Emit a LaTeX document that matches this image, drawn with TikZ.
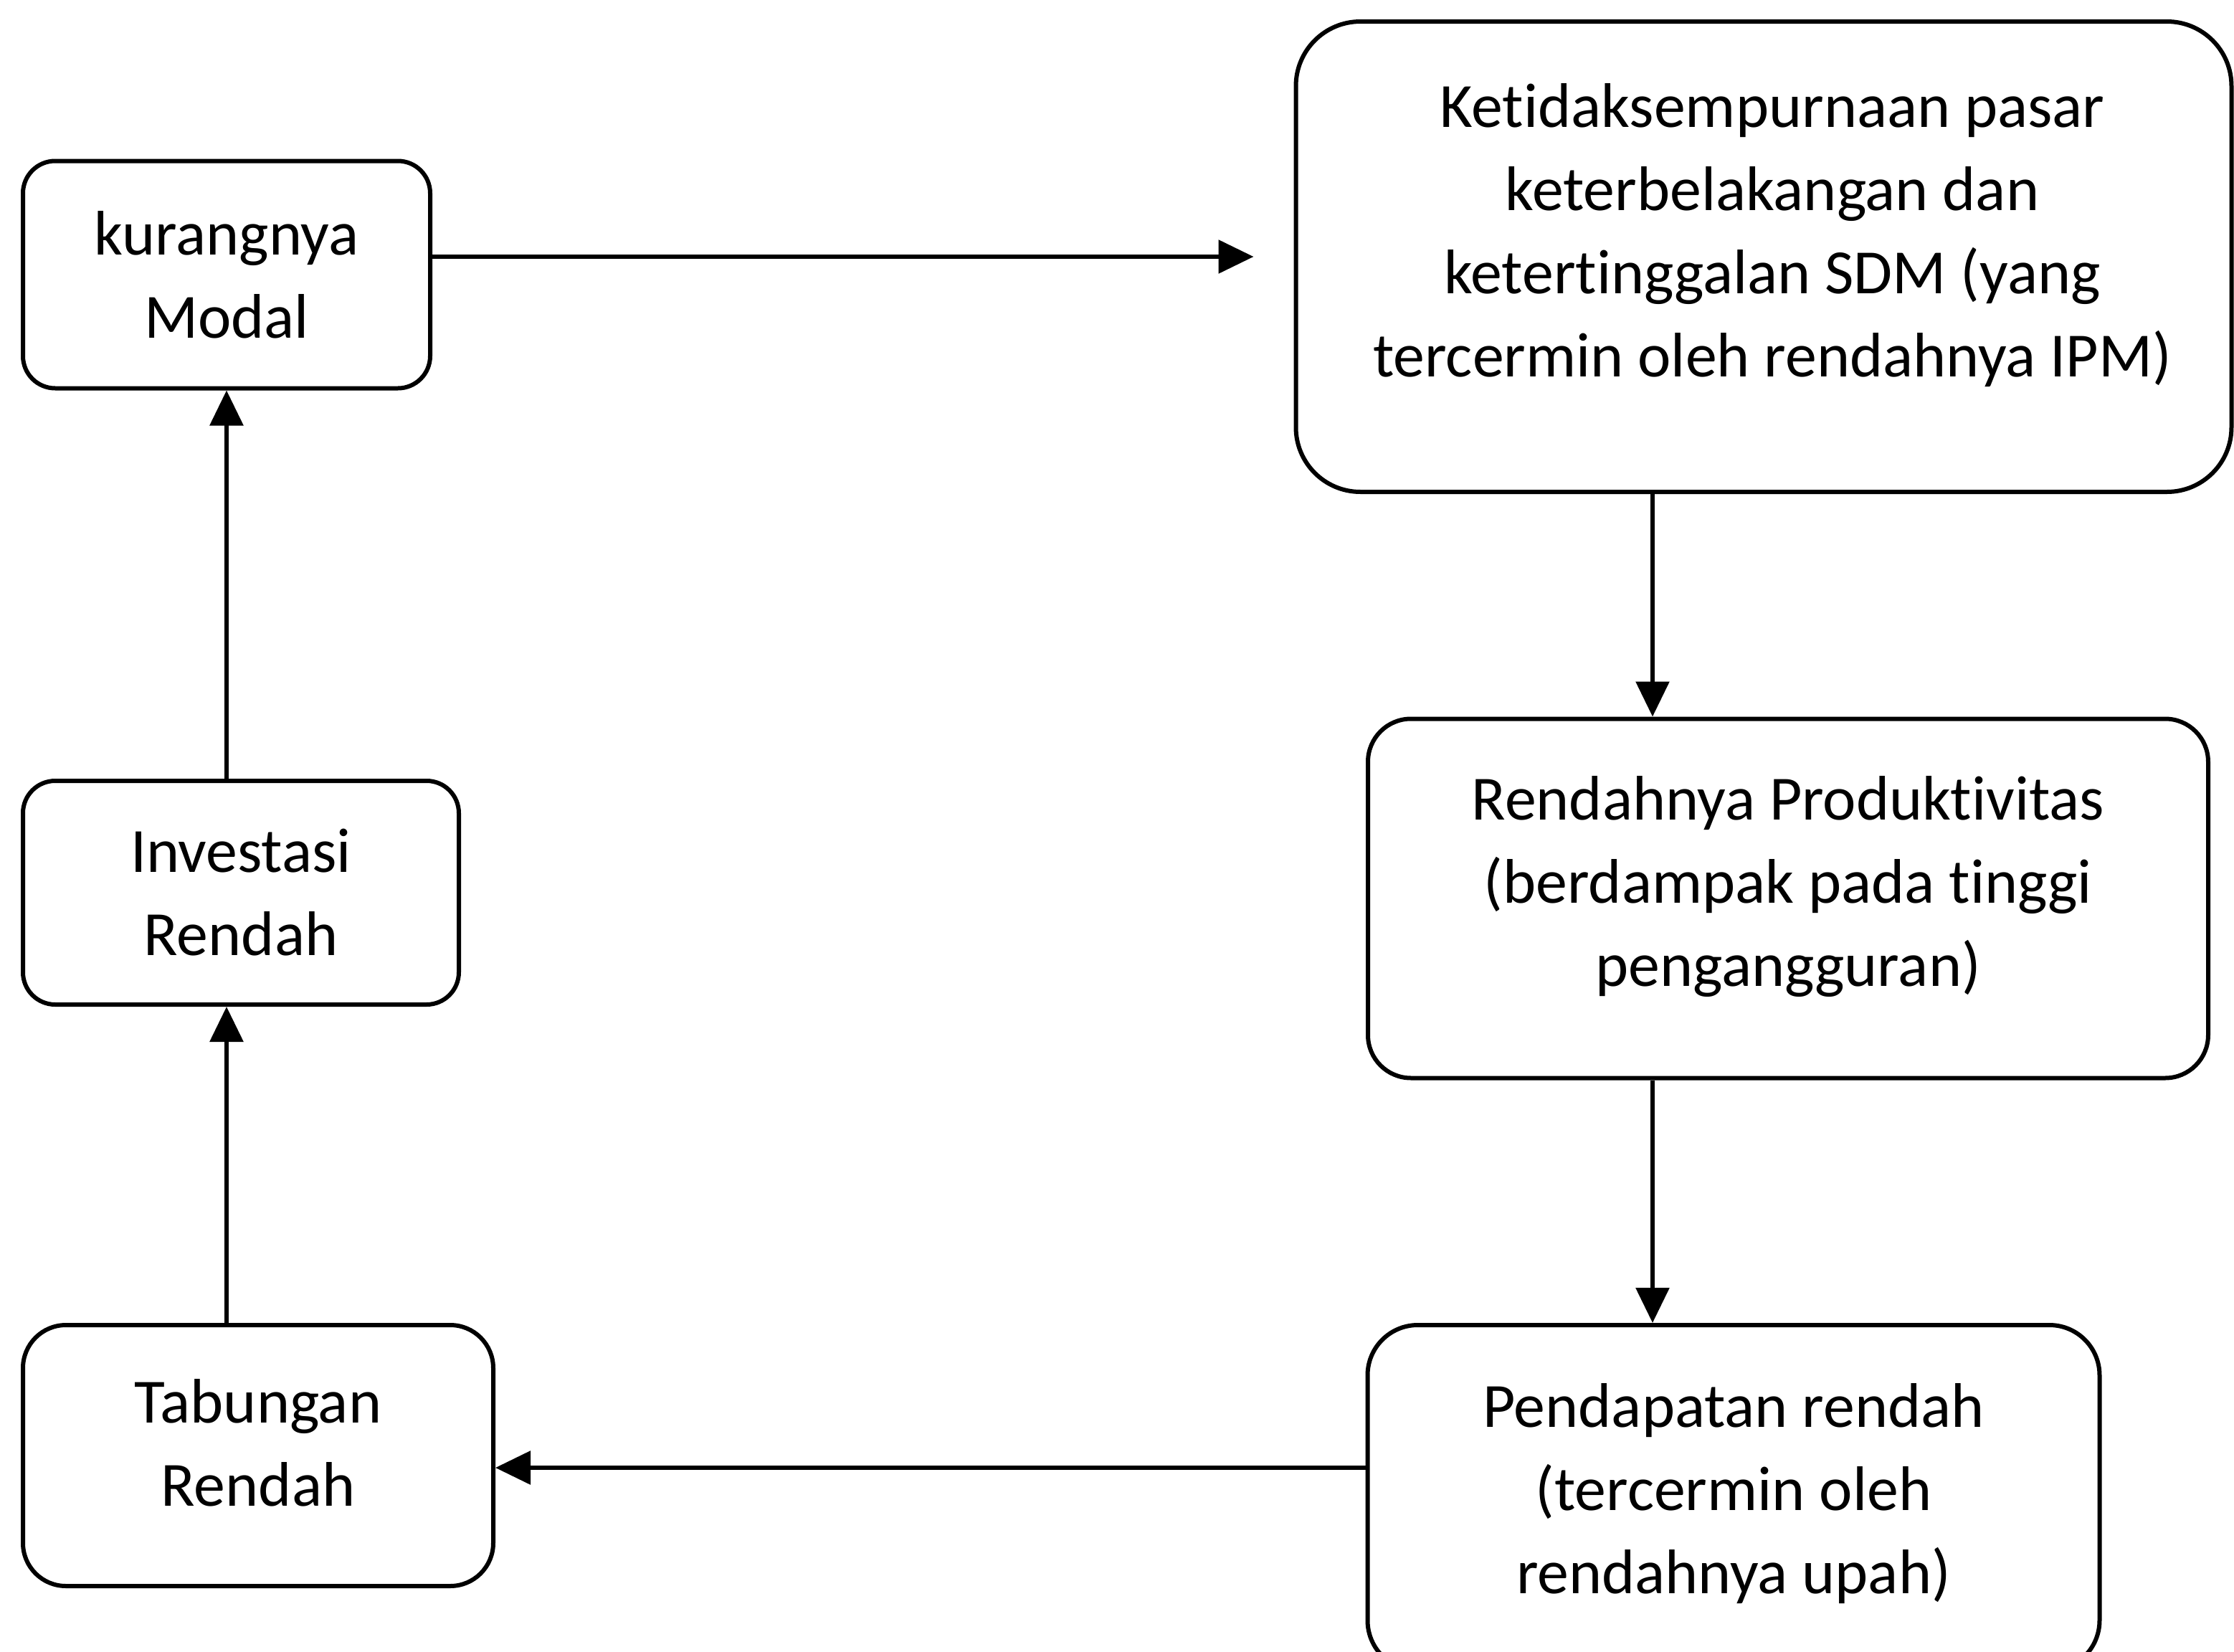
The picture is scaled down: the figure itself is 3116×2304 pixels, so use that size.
\documentclass[tikz,border=0pt]{standalone}
\usepackage{fontspec}
\setmainfont{Carlito}[Ligatures=NoCommon]
\usetikzlibrary{arrows.meta}
\usetikzlibrary{calc}

\tikzset{
  teks/.style={align=center, font=\fontsize{25}{33}\selectfont},
  kotak/.style={teks, draw, line width=0.6mm, rounded corners=5mm, inner sep=0pt},
  panah/.style={line width=0.6mm, -{Triangle[length=4.9mm,width=4.6mm]}}
}

\begin{document}
\begin{tikzpicture}[x=0.1mm, y=-0.1mm]
    \useasboundingbox (0,0) rectangle (3116,2304);

    % boxes, left column
    \node[kotak, minimum width=56.8mm, minimum height=31.7mm, rounded corners=4.5mm] (modal) at (316,383) {kurangnya\\Modal};
    \node[kotak, minimum width=60.8mm, minimum height=31.2mm, rounded corners=4.5mm] (investasi) at (336,1245) {Investasi\\Rendah};
    \node[kotak, minimum width=65.6mm, minimum height=36.4mm, rounded corners=6mm,
          label={[teks, yshift=1.8mm]center:Tabungan\\Rendah}] (tabungan) at (360,2030) {};

    % boxes, right column
    \node[kotak, minimum width=130.5mm, minimum height=65.6mm, rounded corners=9mm,
          label={[teks, xshift=1.2mm, yshift=3mm]center:Ketidaksempurnaan pasar\\keterbelakangan dan\\ketertinggalan SDM (yang\\tercermin oleh rendahnya IPM)}] (pasar) at (2460,358) {};
    \node[kotak, minimum width=117.2mm, minimum height=50.1mm, rounded corners=6mm,
          label={[teks, yshift=1.6mm]center:Rendahnya Produktivitas\\(berdampak pada tinggi\\pengangguran)}] (produktif) at (2494,1253) {};
    \node[kotak, minimum width=102.1mm, minimum height=48.2mm, rounded corners=7mm,
          label={[teks, yshift=0.6mm]center:Pendapatan rendah\\(tercermin oleh\\rendahnya upah)}] (pendapatan) at (2418,2089) {};

    \coordinate (kanan) at (2305,0);
    \coordinate (bawah) at (0,2047);

    % arrows
    \draw[panah, shorten >=5.6mm] (modal.east |- pasar.west) -- (pasar.west);
    \draw[panah] (kanan |- pasar.south) -- (kanan |- produktif.north);
    \draw[panah] (kanan |- produktif.south) -- (kanan |- pendapatan.north);
    \draw[panah] (pendapatan.west |- bawah) -- (tabungan.east |- bawah);
    \draw[panah] (tabungan.north -| modal.south) -- (investasi.south -| modal.south);
    \draw[panah] (investasi.north -| modal.south) -- (modal.south);
\end{tikzpicture}
\end{document}
